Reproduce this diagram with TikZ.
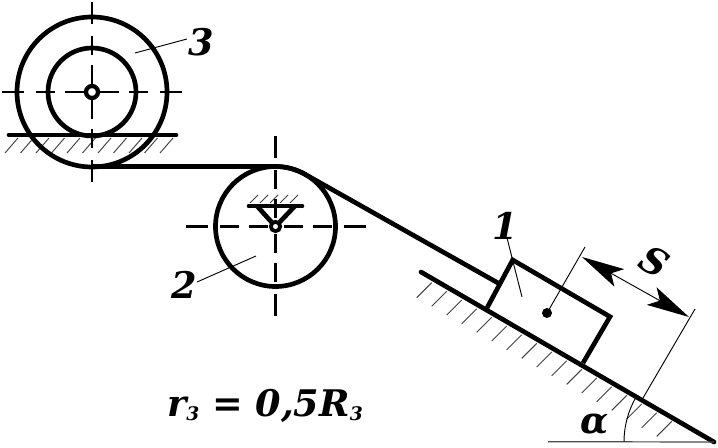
\documentclass[tikz,border=0pt]{standalone}
\usepackage{fontspec}
\setmainfont{DejaVu Serif}
\usetikzlibrary{arrows.meta,calc}
\tikzset{
  wall/.style={line width=3.5pt},
  axisline/.style={line width=2pt},
  thinline/.style={line width=.7pt},
  hatchline/.style={line width=.7pt,black!75},
  hub/.style={circle,draw,line width=3.2pt,fill=white,inner sep=0pt,minimum size=9pt},
  mark text/.style={font=\bfseries\itshape\fontsize{27.5}{28}\selectfont,inner sep=0pt},
  dimtip/.tip={Stealth[length=32pt,width=15pt,inset=7pt]}
}
\newcommand{\axiscross}[1]{
  \foreach \a in {0,90,180,270}
    \foreach \u/\v in {8/27,37/56,68/90}
      \draw[axisline] (#1) +(\a:\u) -- +(\a:\v);
}
\newcommand{\lowthree}{{\fontsize{14}{14}\selectfont\raisebox{-3pt}{3}}}
\begin{document}
\begin{tikzpicture}[x=.75pt,y=-.75pt]
  \useasboundingbox (0,0) rectangle (718,448);
  \coordinate (O3) at (92,92);
  \coordinate (O2) at (275.5,226.5);
  \coordinate (railL) at (9,135);
  \coordinate (railR) at (176,135);
  \coordinate (slopeA) at (421,272);
  \coordinate (slopeB) at (714,442);
  \coordinate (blockA) at (487,308);
  \coordinate (blockB) at (512.7,260);
  \coordinate (blockC) at (610,316.7);
  \coordinate (blockD) at (583,363);
  % wheel 3 and its rail
  \foreach \x in {18,33.5,...,175}
    \draw[hatchline] (\x,138) -- +(-13,15);
  \axiscross{O3}
  \draw[wall] (O3) circle (75);
  \draw[wall] (O3) circle (44);
  \draw[wall,line cap=round] (railL) -- (railR);
  \node[hub] (hub3) at (O3) {};
  % wheel 2 with its support
  \axiscross{O2}
  \draw[wall] (O2) circle (60);
  \foreach \x in {258,268,...,300}
    \draw[hatchline] (\x,195) -- +(-8,8);
  \draw[wall,line cap=round] (249,206) -- (302,206);
  \draw[wall,line join=round] (257,206) -- (O2) -- (295,206);
  \node[hub,line width=2.8pt,minimum size=7pt] (hub2) at (O2) {};
  % cable
  \draw[wall] (O3 |- 0,166.5) -- (O2 |- 0,166.5) arc(-90:-60:60) coordinate (tang)
    -- ($(blockA)!.5!(blockB)$);
  % incline
  \foreach \k in {0,...,16}
    \draw[hatchline] (431.7,282.7) ++(\k*15,\k*8.67) -- +(-15,15);
  \draw[wall,line cap=round] (slopeA) -- (slopeB);
  \draw[line width=.9pt,black!70] (548,441.7) -- (slopeB);
  % block 1
  \draw[wall,line join=miter] (blockA) -- (blockB) -- (blockC) -- (blockD);
  \fill (547,313) circle (5) coordinate (G);
  % dimension S
  \coordinate (dimA) at (582,257);
  \coordinate (dimB) at (689,317);
  \draw[thinline] (G) -- (585,247);
  \draw[thinline] (643,398) -- (695,309);
  \draw[thinline,dimtip-dimtip] (dimA) -- (dimB);
  % alpha
  \draw[thinline] (slopeB) +(180:90) arc(180:210:90);
  % labels
  \node[mark text] (lab3) at (201,42) {3};
  \node[mark text] (lab2) at (184,285) {2};
  \node[mark text] (lab1) at (505,226) {1};
  \node[mark text,rotate=-30] (labS) at (655,262) {S};
  \node[mark text] (labA) at (595,424) {α};
  \node[mark text,anchor=base] (formula) at (265,417) {r\lowthree{} = 0,5R\lowthree};
  \draw[thinline] (lab3.west) ++(-1,-3) -- (135,53);
  \draw[thinline] (lab2.east) ++(0,-3) -- (256,256);
  \draw[thinline] (lab1.south) ++(2,-2) -- (522,297);
\end{tikzpicture}
\end{document}
